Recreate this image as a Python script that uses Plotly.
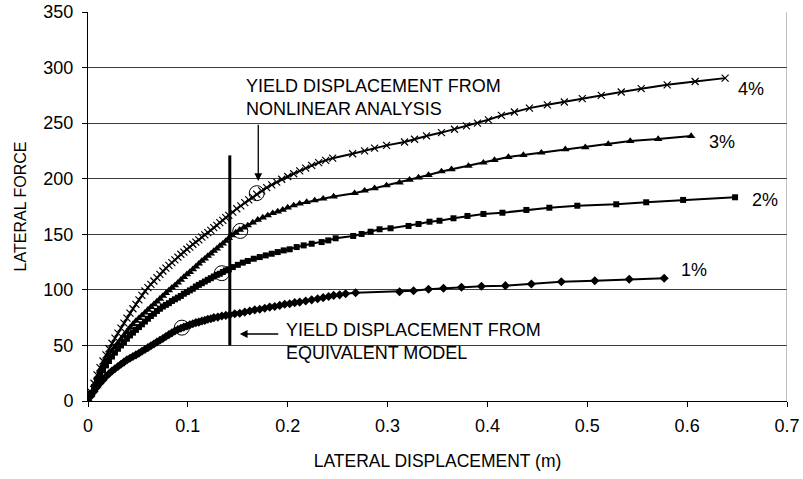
import plotly.graph_objects as go

# ---- pushover curves (lateral displacement in m, lateral force) ----
disp_4 = [0, .003, .006, .009, .012, .015, .018, .021, .024, .027, .030, .033, .036, .039, .042,
          .045, .048, .051, .054, .057, .060, .063, .066, .069, .072, .075, .078, .081, .084, .087,
          .090, .093, .096, .099, .102, .105, .108, .111, .114, .117, .120, .123, .126, .129, .132,
          .135, .138, .141, .145, .149, .153, .157, .161, .165, .169, .174, .179, .184, .189, .194,
          .200, .206, .212, .218, .224, .231, .238, .245, .265, .277, .287, .299, .317, .327, .339,
          .354, .367, .379, .390, .401, .414, .427, .442, .460, .477, .495, .514, .534, .554, .580,
          .608, .638]
force_4 = [0, 8, 16, 23.5, 30, 36, 41.5, 47, 52, 56.5, 61, 65.5, 70, 74.5, 79,
           83, 87, 91, 95, 99, 102, 105, 108, 111, 114, 117, 119.5, 122, 124.5, 127,
           129.5, 132, 134, 136.5, 138.5, 141, 143, 145, 147.5, 149.5, 151.5, 153.5, 156, 158, 160.5,
           162.5, 165, 167, 170, 173, 175.5, 178.5, 181, 183.5, 186, 189, 192, 194.5, 197, 199.5,
           202, 204.5, 207, 209.5, 212, 214.5, 216.5, 218.5, 222.5, 225, 227.5, 230, 233, 235.5, 238.5,
           241.5, 244.5, 247.5, 250, 253, 257, 260, 263.5, 266.5, 269, 272, 275, 278, 281, 284.5,
           287.5, 290.5]

disp_3 = [0, .003, .006, .009, .012, .015, .018, .021, .024, .027, .030, .033, .036, .039, .042,
          .045, .048, .051, .054, .057, .060, .063, .066, .069, .072, .075, .078, .081, .084, .087,
          .090, .093, .096, .099, .102, .105, .108, .111, .114, .117, .120, .123, .126, .129, .132,
          .135, .138, .141, .144, .148, .152, .156, .160, .165, .170, .175, .180, .185, .190, .195,
          .200, .206, .212, .219, .227, .2355, .246, .267, .277, .287, .299, .312, .322, .331, .341,
          .354, .364, .381, .396, .407, .421, .436, .454, .478, .498, .521, .543, .571, .604]
force_3 = [0, 7.5, 14.5, 21, 27, 32, 36.5, 41, 45, 48.5, 52, 55.5, 59, 62.5, 66,
           69, 72, 74.5, 77, 79.5, 82, 84.5, 87, 89.5, 92, 94.5, 97, 99.5, 102, 104,
           106.5, 109, 111.5, 114, 116, 118.5, 121, 123.5, 126, 128, 130.5, 132.5, 135, 137, 139.5,
           141.5, 144, 146.5, 149, 151.5, 154, 156, 158, 160.5, 163, 165, 167, 169, 170.5, 172,
           174, 176, 177.5, 179, 180.5, 182, 184, 187, 189.2, 191.4, 194, 196.5, 199, 201, 203.3,
           206.5, 208.5, 211.5, 214.4, 216.8, 219.5, 221.3, 223.4, 226.5, 228.3, 231.2, 233.9, 235.7, 238.4]

disp_2 = [0, .003, .006, .009, .012, .015, .018, .021, .024, .027, .030, .033, .036, .039, .042,
          .045, .048, .051, .054, .057, .060, .063, .066, .069, .072, .075, .078, .081, .084, .087,
          .090, .093, .096, .099, .102, .105, .108, .111, .114, .117, .120, .123, .126, .129, .132,
          .135, .138, .141, .145, .150, .155, .160, .166, .172, .178, .184, .190, .196, .202, .209,
          .216, .224, .234, .2406, .248, .2656, .274, .283, .292, .303, .321, .331, .342, .352, .366,
          .380, .396, .415, .439, .462, .490, .529, .559, .596, .648]
force_2 = [0, 6.5, 12.5, 18, 23, 27.5, 32, 36, 40, 43.5, 47, 50, 53, 56, 59,
           61.5, 64, 66.5, 69, 71.5, 74, 76.5, 78.5, 81, 83, 85, 86.5, 88, 90, 91.5,
           93, 94.5, 96.5, 98, 99.5, 101, 103, 104.5, 106, 107.5, 109, 110.5, 112, 113.5, 114.5,
           116, 117.5, 118.5, 120.5, 122.5, 124.5, 126, 128, 129.5, 131, 132.5, 134, 135.5, 136.5, 138.5,
           140, 141.5, 143, 144.5, 146.4, 148.5, 150.3, 152.3, 154.5, 155.4, 157.5, 159.3, 161.3, 162.2, 164.4,
           166.5, 168.3, 169.4, 171.9, 173.9, 175.7, 177, 178.8, 180.9, 183.3]

disp_1 = [0, .003, .006, .009, .012, .015, .018, .021, .024, .027, .030, .033, .036, .039, .042,
          .045, .048, .051, .054, .057, .060, .063, .066, .069, .072, .075, .078, .081, .084, .087,
          .090, .093, .096, .099, .102, .105, .108, .111, .114, .117, .120, .123, .126, .130, .134,
          .138, .142, .147, .152, .157, .162, .167, .172, .177, .182, .187, .192, .197, .202, .207,
          .212, .218, .224, .230, .2355, .241, .246, .252, .258, .268, .312, .326, .341, .356, .374,
          .394, .418, .444, .474, .5075, .542, .577]
force_1 = [0, 4.5, 8.5, 12.5, 16, 19, 22, 24.5, 27, 29, 31, 33, 35, 37, 38.5,
           40, 41.5, 43, 44.7, 46.3, 48, 49.7, 51.3, 53, 54.7, 56.3, 58, 59.7, 61.3, 63,
           64.3, 65.5, 66.5, 67.5, 68.5, 69.5, 70.5, 71, 72, 72.5, 73.5, 74, 75, 75.5, 76.5,
           77, 77.5, 78.5, 79, 80, 81, 82, 82.5, 83.5, 84.5, 85, 86, 87, 87.5, 88.5,
           89, 90, 91, 92, 93, 94, 95, 95.5, 96.5, 97.4, 98.3, 99.2, 100.5, 101.4, 102.3,
           103.2, 103.8, 105.3, 107.3, 108.2, 109.5, 110.4]

# yield points from nonlinear analysis (circled)
yield_disp = [0.094, 0.134, 0.1525, 0.169]
yield_force = [66, 115, 153, 187]

# yield displacement of the equivalent model
equiv_disp = [0.142, 0.142]
equiv_force = [50, 221]

# curve labels
curve_labels = ["4%", "3%", "2%", "1%"]
label_x = [0.649, 0.620, 0.663, 0.592]
label_y = [281, 233, 181, 118]

x_ticks = [0, 0.1, 0.2, 0.3, 0.4, 0.5, 0.6, 0.7]
x_tick_text = ["0", "0.1", "0.2", "0.3", "0.4", "0.5", "0.6", "0.7"]
y_ticks = [0, 50, 100, 150, 200, 250, 300, 350]
y_tick_text = ["0", "50", "100", "150", "200", "250", "300", "350"]

FONT = "Liberation Sans, Arial, sans-serif"

fig = go.Figure()

series = [
    (disp_4, force_4, dict(symbol="x-thin", size=7, color="black", line=dict(width=1.2, color="black"))),
    (disp_3, force_3, dict(symbol="triangle-up", size=7.5, color="black")),
    (disp_2, force_2, dict(symbol="square", size=6, color="black")),
    (disp_1, force_1, dict(symbol="diamond", size=7, color="black")),
]
for xs, ys, mk in series:
    fig.add_trace(go.Scatter(x=xs, y=ys, mode="lines+markers",
                             line=dict(color="black", width=2), marker=mk,
                             showlegend=False, hoverinfo="skip"))

fig.add_trace(go.Scatter(x=yield_disp, y=yield_force, mode="markers",
                         marker=dict(symbol="circle-open", size=15,
                                     line=dict(width=1, color="black"), color="black"),
                         showlegend=False, hoverinfo="skip"))

fig.add_trace(go.Scatter(x=equiv_disp, y=equiv_force, mode="lines",
                         line=dict(color="black", width=3),
                         showlegend=False, hoverinfo="skip"))

annotations = []
for t, lx, ly in zip(curve_labels, label_x, label_y):
    annotations.append(dict(x=lx, y=ly, xref="x", yref="y", text=t, showarrow=False,
                            xanchor="left", yanchor="middle",
                            font=dict(family=FONT, size=18, color="black")))

annotations.append(dict(x=0.156, y=273, xref="x", yref="y",
                        text="YIELD DISPLACEMENT FROM<br>NONLINEAR ANALYSIS",
                        showarrow=False, xanchor="left", yanchor="middle", align="left",
                        font=dict(family=FONT, size=18, color="black")))
annotations.append(dict(x=0.196, y=53.5, xref="x", yref="y",
                        text="YIELD DISPLACEMENT FROM<br>EQUIVALENT MODEL",
                        showarrow=False, xanchor="left", yanchor="middle", align="left",
                        font=dict(family=FONT, size=18, color="black")))

# arrows pointing to the two yield definitions
annotations.append(dict(x=0.1705, y=198, ax=0.1705, ay=250, xref="x", yref="y",
                        axref="x", ayref="y", text="", showarrow=True,
                        arrowhead=2, arrowsize=1.2, arrowwidth=1.3, arrowcolor="black"))
annotations.append(dict(x=0.152, y=60.3, ax=0.192, ay=60.3, xref="x", yref="y",
                        axref="x", ayref="y", text="", showarrow=True,
                        arrowhead=2, arrowsize=1.2, arrowwidth=1.3, arrowcolor="black"))

fig.update_layout(
    width=803, height=479,
    margin=dict(l=88, r=16, t=12, b=78),
    paper_bgcolor="white", plot_bgcolor="white",
    font=dict(family=FONT, size=18, color="black"),
    annotations=annotations,
    shapes=[dict(type="line", xref="x", yref="y", x0=0.7, x1=0.7, y0=0, y1=350,
                 line=dict(color="#808080", width=1))],
)
fig.update_xaxes(range=[0, 0.7], tickvals=x_ticks, ticktext=x_tick_text, automargin=False,
                 showgrid=False, zeroline=False, showline=True, linecolor="black", linewidth=1,
                 ticks="outside", ticklen=5, tickcolor="black",
                 tickfont=dict(family=FONT, size=18), ticklabelstandoff=3,
                 title=dict(text="LATERAL DISPLACEMENT (m)", font=dict(family=FONT, size=17.5), standoff=20))
fig.update_yaxes(range=[0, 350], tickvals=y_ticks, ticktext=y_tick_text, automargin=False,
                 showgrid=True, gridcolor="#3c3c3c", gridwidth=1, zeroline=False,
                 showline=True, linecolor="black", linewidth=1,
                 ticks="outside", ticklen=5, tickcolor="black",
                 tickfont=dict(family=FONT, size=18), ticklabelstandoff=5,
                 title=dict(text="LATERAL FORCE", font=dict(family=FONT, size=16), standoff=12))

fig.write_html("out.html")
